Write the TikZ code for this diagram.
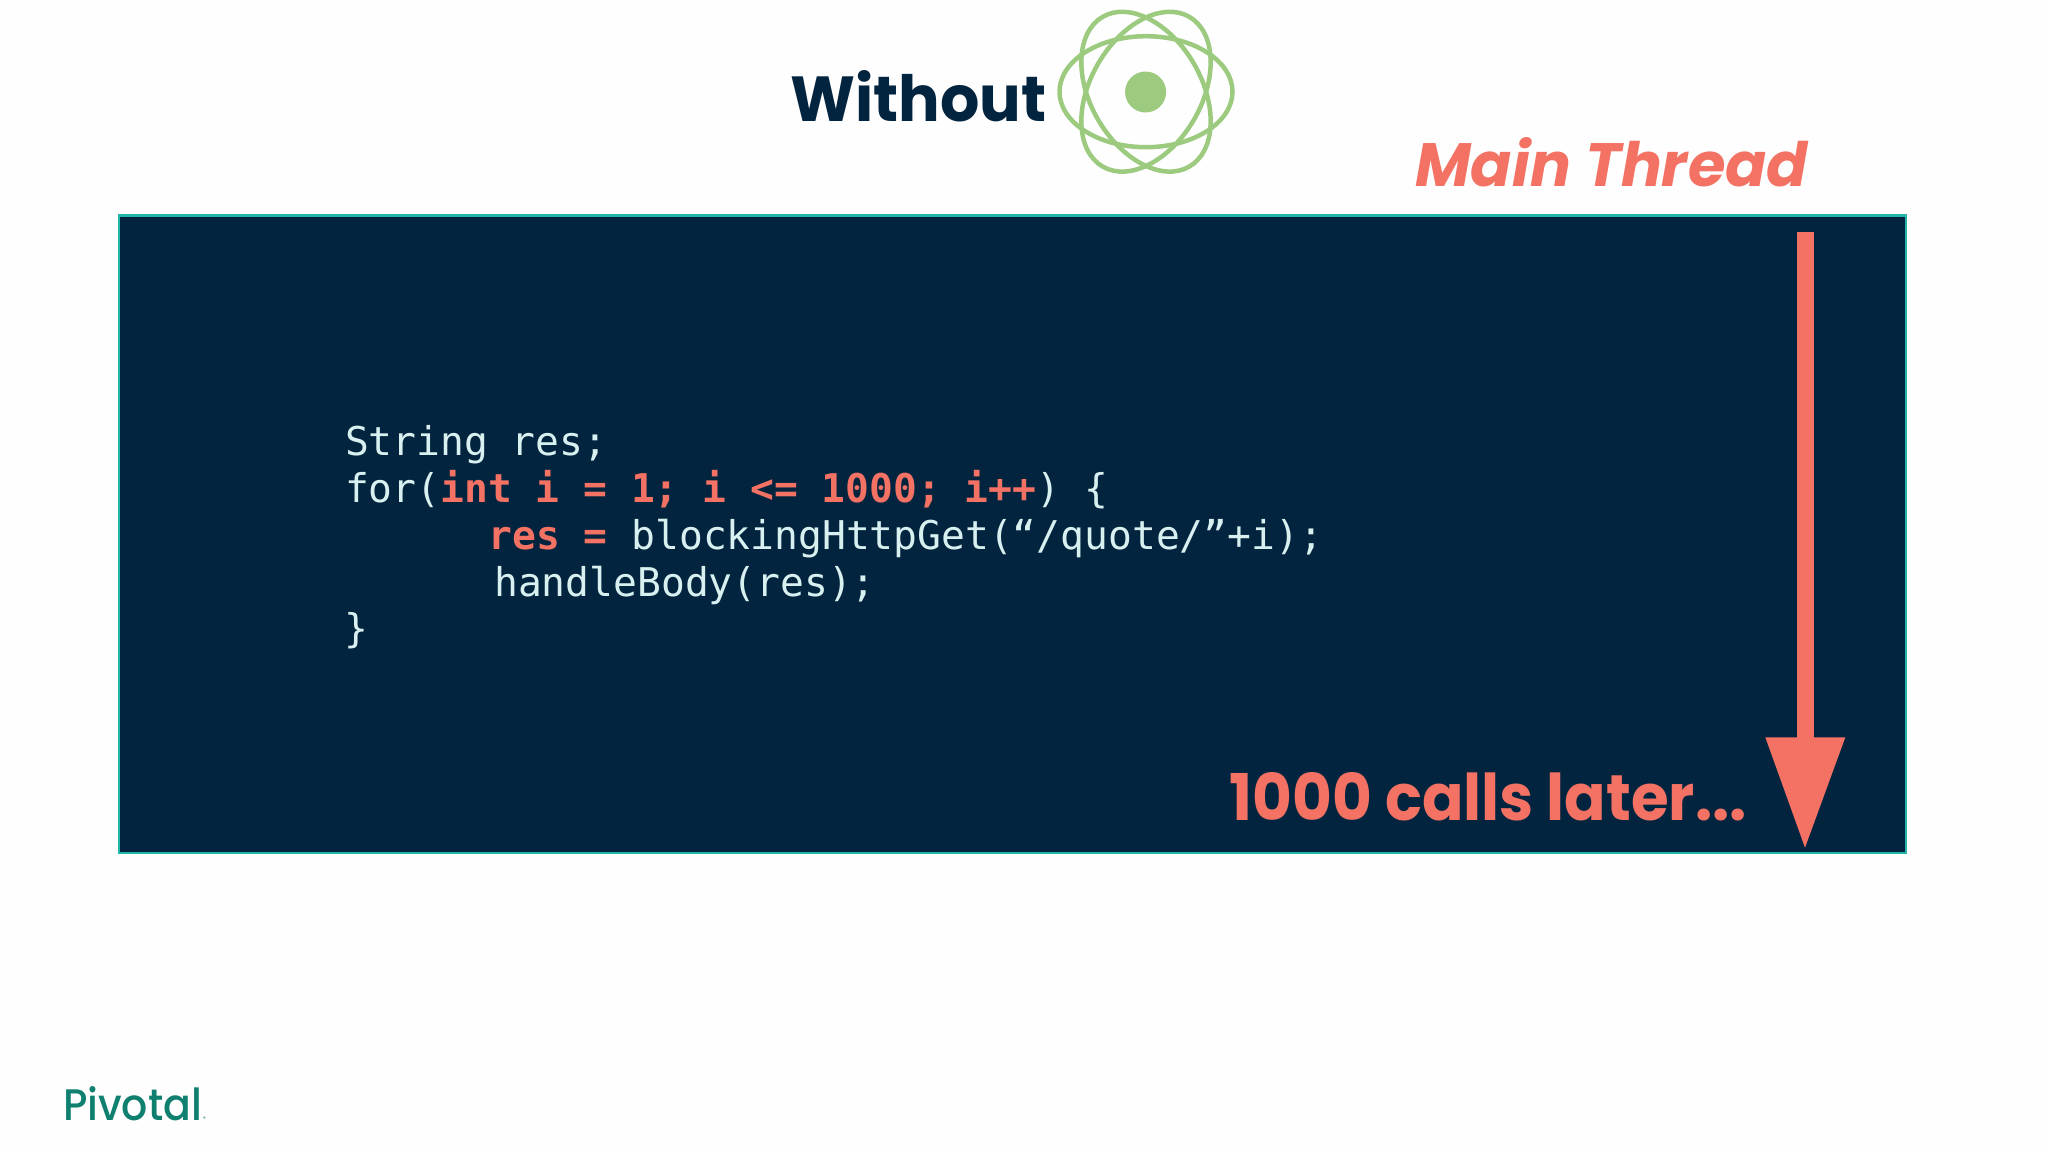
\documentclass[tikz,border=0pt]{standalone}
\usepackage{fontspec}
\usetikzlibrary{calc}
\setmainfont{Poppins}
\newfontfamily\codefont{DejaVu Sans Mono}
\newfontfamily\logofont{Poppins Medium}
\definecolor{navy}{HTML}{03243F}
\definecolor{coral}{HTML}{F37263}
\definecolor{teal}{HTML}{23B5A8}
\definecolor{atom}{HTML}{9CCB80}
\definecolor{codetxt}{HTML}{D8F1F0}
\definecolor{pivgreen}{HTML}{0F8070}
\tikzset{
  txt/.style={inner sep=0pt,outer sep=0pt,anchor=base west},
  code/.style={txt,text=codetxt,font=\codefont\fontsize{39.6}{47}\selectfont},
  orbit/.style={draw=atom,line width=4.5pt},
}
\newcommand{\hot}[1]{\textcolor{coral}{\bfseries #1}}
\begin{document}
\begin{tikzpicture}[x=1pt,y=-1pt]
\useasboundingbox (0,0) rectangle (2048,1152);
\fill[white!99.5!black] (0,0) rectangle (2048,1152);
\node[txt,text=navy,font=\bfseries\fontsize{68}{68}\selectfont] (without) at (790.5,121.7) {\resizebox{256pt}{51pt}{Without}};
\foreach \r/\n in {0/a,60/b,120/c}
  \draw[orbit,rotate around={\r:(1146,91.7)}] (1146,91.7) ellipse [x radius=86.5,y radius=55.5];
\fill[atom] (1145.6,92) circle (20.5);
\node[txt,text=coral,font=\bfseries\itshape\fontsize{64}{64}\selectfont] (mainthread) at (1415,186.7) {\resizebox{393pt}{49pt}{Main Thread}};
\draw[teal,fill=navy,line width=2.4pt] (119,215.5) rectangle (1906,853);
\node[code] (l1) at (345,455) {String res;};
\node[code] (l2) at (345,502.5) {for(\hot{int i = 1; i <= 1000; i++}) \{};
\node[code] (l3) at (488.5,549.3) {\hot{res =} blockingHttpGet(“/quote/”+i);};
\node[code] (l4) at (494.3,596) {handleBody(res);};
\node[code] (l5) at (344,642.5) {\}};
\node[txt,text=coral,font=\bfseries\fontsize{64}{64}\selectfont] (later) at (1229.7,820.7) {\resizebox{517pt}{48pt}{1000 calls later...}};
\coordinate (arrowtop) at (1805.3,232);
\coordinate (arrowbase) at (1805.3,737.3);
\coordinate (arrowtip) at (1805,847.7);
\fill[coral] ($(arrowtop)+(-8.6,0)$) rectangle ($(arrowbase)+(8.6,1)$);
\fill[coral] ($(arrowbase)+(-40,0)$) -- ($(arrowbase)+(40,0)$) -- (arrowtip) -- cycle;
\node[txt,text=pivgreen,font=\logofont\fontsize{44}{44}\selectfont] (pivotal) at (63,1120) {\resizebox{139pt}{34pt}{Pivotal}};
\node[txt,text=pivgreen,font=\logofont\fontsize{5}{5}\selectfont] (reg) at (203,1120) {®};
\end{tikzpicture}
\end{document}
